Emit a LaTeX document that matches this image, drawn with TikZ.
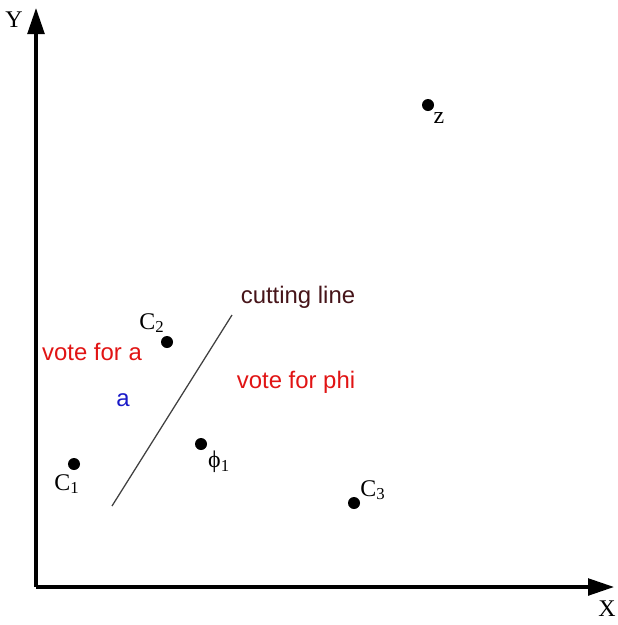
\documentclass[tikz,border=0pt]{standalone}
\usepackage{fontspec}
\setmainfont{Liberation Serif}
\newfontfamily\arialfont{Liberation Sans}
\usetikzlibrary{arrows.meta}

\definecolor{voteRed}{RGB}{225,20,20}
\definecolor{voteBlue}{RGB}{25,25,200}
\definecolor{cutBrown}{RGB}{70,20,25}

\begin{document}
\begin{tikzpicture}[
  x=0.025cm, y=-0.025cm,
  every node/.style={
    inner sep=0pt,
    font=\fontsize{17}{19}\selectfont
  },
  point/.style={
    circle,
    fill=black,
    minimum size=3mm
  },
  axis/.style={
    line width=2.2pt,
    -{Triangle[length=6.5mm,width=4.2mm]}
  },
  vote/.style={
    font=\arialfont\fontsize{17}{19}\selectfont
  }
]
  \useasboundingbox (0,0) rectangle (618,625);

  % axes
  \coordinate (O)    at (36,587);
  \coordinate (Xend) at (614,587);
  \coordinate (Yend) at (36,8);
  \draw[axis] (O) -- (Xend);
  \draw[axis] (O) -- (Yend);
  \node (xlab) at (607,609) {X};
  \node (ylab) at (14,20)   {Y};

  % points
  \node[point] (C1)  at (74,464)  {};
  \node[point] (C2)  at (167,342) {};
  \node[point] (phi) at (201,444) {};
  \node[point] (C3)  at (354,503) {};
  \node[point] (z)   at (428,105) {};

  \node (lC1)  at (67,484)  {C\textsubscript{1}};
  \node (lC2)  at (152,323) {C\textsubscript{2}};
  \node (lphi) at (219,462) {ϕ\textsubscript{1}};
  \node (lC3)  at (373,490) {C\textsubscript{3}};
  \node (lz)   at (439,118) {z};

  % cutting line
  \coordinate (cutA) at (112,506);
  \coordinate (cutB) at (232,315);
  \draw[line width=0.9pt, black!75] (cutA) -- (cutB);

  \node[vote, text=cutBrown] (cut)  at (298,297) {cutting line};
  \node[vote, text=voteRed]  (va)   at (92,352)  {vote for a};
  \node[vote, text=voteBlue] (a)    at (123,400) {a};
  \node[vote, text=voteRed]  (vphi) at (296,382) {vote for phi};
\end{tikzpicture}
\end{document}
